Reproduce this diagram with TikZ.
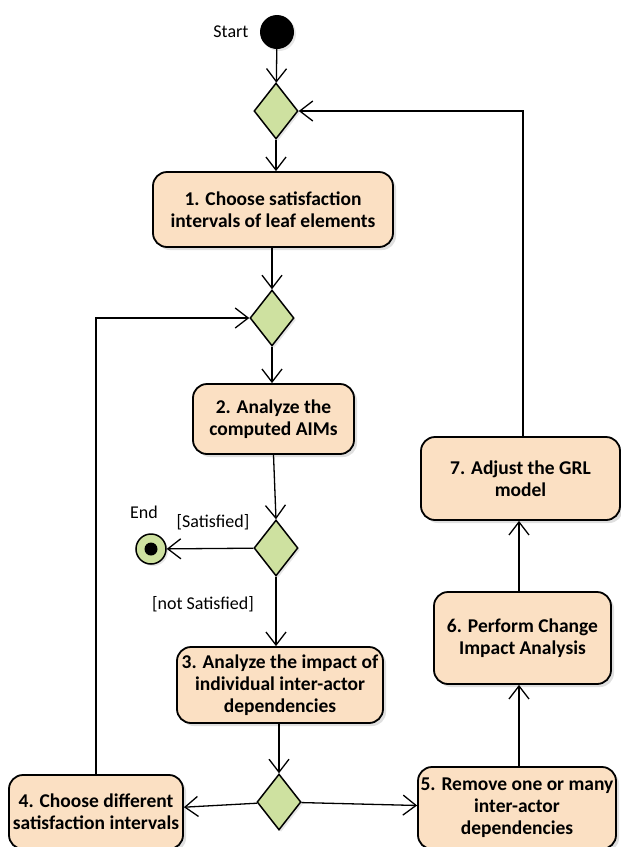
\documentclass[tikz,border=0pt]{standalone}
\usepackage{fontspec}
\setmainfont{Carlito}
\usetikzlibrary{arrows.meta,shapes.geometric,shadows}
\definecolor{actfill}{RGB}{251,224,195}
\definecolor{decfill}{RGB}{206,225,160}
\tikzset{
  flow/.style={line width=1.3pt,-{Straight Barb[length=13pt,width=20pt,line width=1.3pt]}},
  actbox/.style={draw,line width=1.8pt,rounded corners=14pt,fill=actfill,align=center,
    font=\fontsize{19.5}{22}\selectfont\bfseries,inner sep=1pt,
    drop shadow={shadow xshift=3pt,shadow yshift=-3pt,opacity=0.25}},
  decision/.style={draw,line width=1.5pt,diamond,fill=decfill,inner sep=0pt,
    minimum width=44pt,minimum height=56pt,
    drop shadow={shadow xshift=2pt,shadow yshift=-2pt,opacity=0.2}},
  lbl/.style={font=\fontsize{18}{20}\selectfont}
}
\begin{document}
\begin{tikzpicture}[x=1pt,y=-1pt]
\useasboundingbox (0,0) rectangle (621,847);
% initial and final states
\node[circle,fill=black,minimum size=34pt,inner sep=0pt,
  drop shadow={shadow xshift=2pt,shadow yshift=-2pt,opacity=0.2}] (start) at (277,32) {};
\node[lbl,anchor=east] (startlbl) at (252,32) {Start};
\node[circle,draw,line width=1.5pt,fill=decfill,minimum size=30pt,inner sep=0pt,
  drop shadow={shadow xshift=2pt,shadow yshift=-2pt,opacity=0.2}] (end) at (151,549) {};
\node[circle,fill=black,minimum size=13pt,inner sep=0pt] (enddot) at (end) {};
\node[lbl] (endlbl) at (144,512) {End};
% decisions
\node[decision] (d1) at (276,111) {};
\node[decision] (d2) at (272,318) {};
\node[decision] (d3) at (276,548) {};
\node[decision] (d4) at (279,802) {};
% activities
\node[actbox,minimum width=240pt,minimum height=75pt] (a1) at (273,209.5)
  {1. Choose satisfaction\\intervals of leaf elements};
\node[actbox,minimum width=161pt,minimum height=70pt] (a2) at (273.5,419)
  {2. Analyze the\\computed AIMs};
\node[actbox,minimum width=206pt,minimum height=76pt] (a3) at (280,685)
  {3. Analyze the impact of\\individual inter-actor\\dependencies};
\node[actbox,minimum width=174pt,minimum height=74pt] (a4) at (96,812)
  {4. Choose different\\satisfaction intervals};
\node[actbox,minimum width=198pt,minimum height=82pt] (a5) at (517,808)
  {5. Remove one or many\\inter-actor\\dependencies};
\node[actbox,minimum width=177pt,minimum height=92pt] (a6) at (522.5,638)
  {6. Perform Change\\Impact Analysis};
\node[actbox,minimum width=199pt,minimum height=83pt] (a7) at (520.5,478.5)
  {7. Adjust the GRL\\model};
% guards
\node[lbl] (gsat) at (213,522) {[Satisfied]};
\node[lbl] (gnot) at (203,604) {[not Satisfied]};
% control flows
\draw[flow] (start) -- (d1);
\draw[flow] (d1) -- (d1 |- a1.north);
\draw[flow] (d2 |- a1.south) -- (d2);
\draw[flow] (d2) -- (d2 |- a2.north);
\draw[flow] (a2.south) -- (d3.north);
\draw[flow] (d3) -- (end);
\draw[flow] (d3.south) -- (d3.south |- a3.north);
\draw[flow] (d4 |- a3.south) -- (d4);
\draw[flow] (d4) -- (a4);
\draw[flow] (d4) -- (a5);
\draw[flow] (a5.north -| 519,0) -- (519,0 |- a6.south);
\draw[flow] (a6.north -| 519,0) -- (519,0 |- a7.south);
\draw[flow] (a7.north -| 523,0) |- (d1.east);
\draw[flow] (a4.north) |- (d2.west);
\end{tikzpicture}
\end{document}
